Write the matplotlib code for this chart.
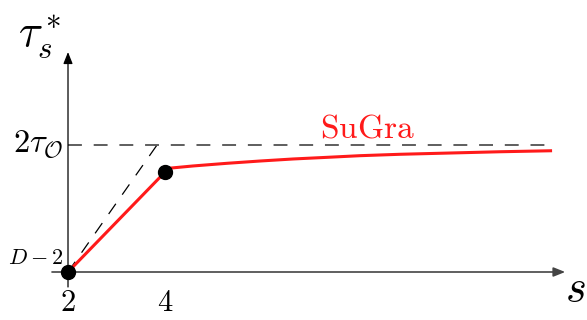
import matplotlib
matplotlib.use("Agg")
import matplotlib.pyplot as plt

plt.rcParams['mathtext.fontset'] = 'cm'
plt.rcParams['font.family'] = ['DejaVu Serif']
plt.rcParams['lines.scale_dashes'] = False

# data (normalized: 0 -> D-2, 1 -> 2*tau_O)
s_lin = [2.0, 4.0]
t_lin = [0.0, 0.787]
s_curve = [4.0, 4.103, 4.577, 5.278, 5.959, 6.639, 7.340, 8.021, 8.845, 9.876, 10.907, 11.98]
t_curve = [0.787, 0.818, 0.835, 0.856, 0.874, 0.890, 0.903, 0.916, 0.927, 0.937, 0.947, 0.955]
dots_s = [2.0, 4.0]
dots_t = [0.0, 0.787]
bound_s = [2.0, 3.835, 12.0]
bound_t = [0.0, 1.0, 1.0]
xtick_vals = [2, 4]
xtick_labels = ['2', '4']
ytick_vals = [0.0, 1.0]
ytick_labels = [r'$D-2$', r'$2\tau_{\mathcal{O}}$']

fig = plt.figure(figsize=(5.87, 3.2), dpi=100)
ax = fig.add_axes([0, 0, 1, 1])
ax.set_xlim(0.598, 12.70)
ax.set_ylim(-0.378, 2.142)
ax.axis('off')

axcol = '#444444'
# x axis
ax.annotate('', xy=(12.25, 0.0), xytext=(1.67, 0.0),
            arrowprops=dict(arrowstyle='-|>,head_length=0.5,head_width=0.2',
                            color=axcol, lw=1.2,
                            mutation_scale=14, shrinkA=0, shrinkB=0))
# y axis
ax.annotate('', xy=(2.0, 1.732), xytext=(2.0, -0.118),
            arrowprops=dict(arrowstyle='-|>,head_length=0.5,head_width=0.2',
                            color='black', lw=0.9,
                            mutation_scale=14, shrinkA=0, shrinkB=0))

# dashed bounds
ax.plot(bound_s[:2], bound_t[:2], color='black', lw=0.9, dashes=(9, 8))
ax.plot([2.0, bound_s[2]], [1.0, 1.0], color='#333333', lw=1.1, dashes=(10, 8.5),
        dash_capstyle='butt')

# red curve
ax.plot(s_lin + s_curve[1:], t_lin + t_curve[1:], color='#ff1a1a', lw=2.2,
        solid_capstyle='butt', solid_joinstyle='round', zorder=3)
ax.plot(dots_s, dots_t, 'o', color='black', ms=10, zorder=4)

# tick labels
for v, l in zip(xtick_vals, xtick_labels):
    ax.text(v, -0.24, r'$%s$' % l, ha='center', va='center', fontsize=22)
ax.text(1.9, 0.11, ytick_labels[0], ha='right', va='center', fontsize=16)
ax.text(1.9, 1.0, ytick_labels[1], ha='right', va='center', fontsize=23.5)

ax.text(1.42, 1.85, r'$\tau_s^*$', ha='center', va='center', fontsize=32)
ax.text(12.45, -0.13, r'$s$', ha='center', va='center', fontsize=32)
ax.text(8.18, 1.13, r'$\mathrm{SuGra}$', ha='center', va='center', fontsize=24,
        color='#ff1a1a')

fig.savefig('out.png', dpi=100)
